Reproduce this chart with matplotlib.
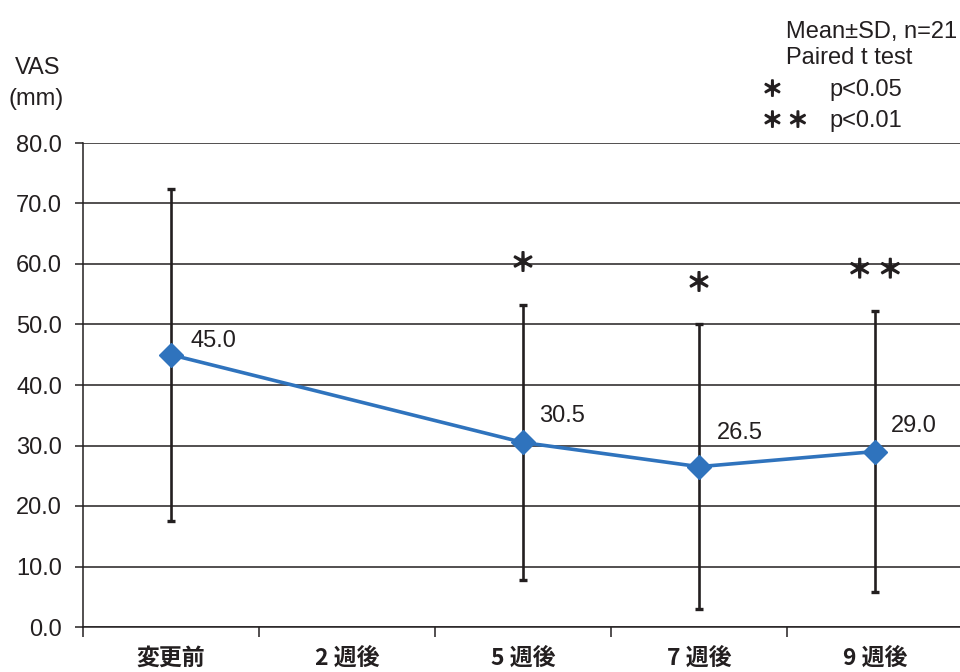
import matplotlib.pyplot as plt
import matplotlib.patheffects as pe
from matplotlib.ticker import FixedLocator

plt.rcParams['font.family'] = ['Noto Sans CJK JP', 'DejaVu Sans']

# ── DATA ──────────────────────────────────────────
categories = ['変更前', '2 週後', '5 週後', '7 週後', '9 週後']
point_idx  = [0, 2, 3, 4]          # 2週後 has no measurement
vas_mean   = [45.0, 30.5, 26.5, 29.0]
vas_sd     = [27.4, 22.8, 23.5, 23.2]
sig_marks  = ['', '＊', '＊', '＊ ＊']
yticks     = [0, 10, 20, 30, 40, 50, 60, 70, 80]

BLUE = '#2f73bd'
INK  = '#231f20'
LAT  = ['Liberation Sans', 'Noto Sans CJK JP', 'DejaVu Sans']
FS   = 17
bold_star = [pe.withStroke(linewidth=1.3, foreground=INK)]

fig = plt.figure(figsize=(9.6, 6.72), dpi=100)
ax = fig.add_axes([83/960, 1 - 627/672, 880/960, 484/672])

# grid lines
for v in yticks:
    ax.axhline(v, color=INK, lw=1.1, zorder=1)

ax.errorbar(point_idx, vas_mean, yerr=vas_sd, fmt='none', ecolor=INK,
            elinewidth=1.9, capsize=2.8, capthick=2.4, zorder=2)
ax.plot(point_idx, vas_mean, color=BLUE, lw=2.6, marker='D', ms=12,
        mec=BLUE, mfc=BLUE, zorder=3)

# value labels
lab_dx = [0.11, 0.09, 0.10, 0.09]
lab_dy = [2.3, 4.4, 5.5, 4.3]
for x, m, dx, dy in zip(point_idx, vas_mean, lab_dx, lab_dy):
    ax.text(x + dx, m + dy, f'{m:.1f}', fontsize=FS, color=INK,
            ha='left', va='center', family=LAT)

# significance asterisks above each upper whisker
for x, m, s, mark in zip(point_idx, vas_mean, vas_sd, sig_marks):
    if mark:
        ax.text(x, m + s + 6.7, mark, fontsize=18, color=INK,
                ha='center', va='center', path_effects=bold_star, zorder=4)

ax.set_xlim(-0.5, 4.5)
ax.set_ylim(0, 80)
ax.yaxis.set_major_locator(FixedLocator(yticks))
ax.set_yticklabels([f'{v:.1f}' for v in yticks], fontsize=FS, color=INK, family=LAT)
ax.xaxis.set_major_locator(FixedLocator([i + 0.5 for i in range(-1, 5)]))
ax.set_xticklabels([''] * 6)
ax.xaxis.set_minor_locator(FixedLocator(range(5)))
ax.set_xticklabels(categories, minor=True, fontsize=16.5, fontweight='bold', color=INK)
ax.tick_params(axis='x', which='minor', length=0, pad=14)
ax.tick_params(axis='x', which='major', length=7, width=1.1, color=INK, direction='out')
ax.tick_params(axis='y', length=6, width=1.1, color=INK, pad=9)

for side in ['top', 'right']:
    ax.spines[side].set_visible(False)
for side in ['left', 'bottom']:
    ax.spines[side].set_color(INK)
    ax.spines[side].set_linewidth(1.1)

# axis title
fig.text(15/960, 1 - 68/672, 'VAS', fontsize=FS, color=INK, ha='left', va='center',
         family=LAT)
fig.text(8/960, 1 - 99/672, '(mm)', fontsize=FS, color=INK, ha='left', va='center',
         family=LAT)

# statistics note
fig.text(957/960, 1 - 32/672, 'Mean±SD, n=21', fontsize=FS, color=INK, va='center',
         ha='right', family=LAT)
fig.text(786/960, 1 - 58/672, 'Paired t test', fontsize=FS, color=INK, va='center',
         family=LAT)
fig.text(762/960, 1 - 90/672, '＊', fontsize=15, color=INK, va='center',
         path_effects=bold_star)
fig.text(829/960, 1 - 90/672, 'p<0.05', fontsize=FS, color=INK, va='center', family=LAT)
fig.text(762/960, 1 - 121/672, '＊ ＊', fontsize=15, color=INK, va='center',
         path_effects=bold_star)
fig.text(829/960, 1 - 121/672, 'p<0.01', fontsize=FS, color=INK, va='center', family=LAT)

fig.savefig('out.png', dpi=100, facecolor='white')
